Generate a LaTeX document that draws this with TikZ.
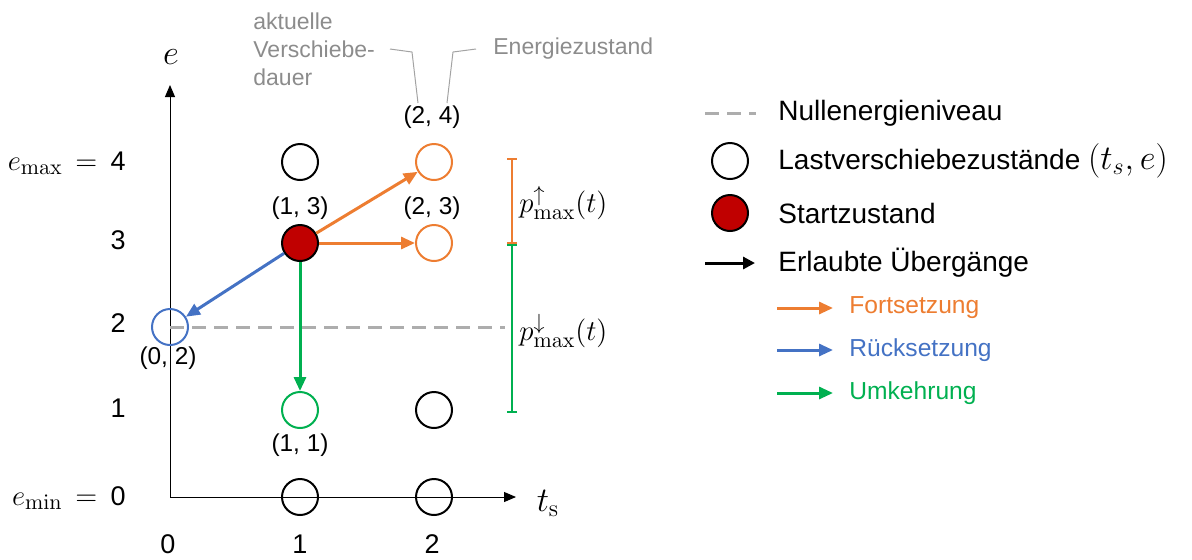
\documentclass[tikz,border=0pt]{standalone}
\usepackage[no-math]{fontspec}
\setmainfont{Liberation Sans}
\usetikzlibrary{arrows.meta}
\definecolor{cOr}{HTML}{ED7D31}
\definecolor{cBl}{HTML}{4472C4}
\definecolor{cGr}{HTML}{00B050}
\definecolor{cRd}{HTML}{C00000}
\definecolor{cDash}{HTML}{ADADAD}
\definecolor{cGtxt}{HTML}{8C8C8C}
\newcommand\fLeg{\fontsize{14}{17}\selectfont}
\newcommand\fCo{\fontsize{12.2}{14}\selectfont}
\newcommand\fGr{\fontsize{11.5}{14}\selectfont}
\newcommand\fSm{\fontsize{12.3}{15}\selectfont}
\newcommand\fAx{\fontsize{13.5}{16}\selectfont}
\newcommand\fMa{\fontsize{16.5}{19}\selectfont}
\newcommand\fMl{\fontsize{15.8}{19}\selectfont}
\newcommand\fMp{\fontsize{15.3}{18}\selectfont}
\begin{document}
\begin{tikzpicture}[x=0.5pt,y=-0.5pt,
  st/.style={circle, draw, line width=1pt, minimum size=18pt, inner sep=0pt},
  ar/.style={line width=1.5pt, -{Triangle[length=7pt,width=6pt]}},
  axis/.style={line width=0.5pt, -{Triangle[length=6pt,width=5pt]}},
  nulldash/.style={cDash, line width=1.5pt, dash pattern=on 7pt off 4pt},
  lead/.style={cGtxt!80, line width=0.5pt},
  bar/.style={line width=1pt, {Bar[width=5pt]}-{Bar[width=5pt]}},
  lbl/.style={inner sep=1pt}
]
\useasboundingbox (0,0) rectangle (1192,559);

% axes
\coordinate (O) at (170,497);
\coordinate (Ytop) at (170,85);
\coordinate (Xend) at (516,497);
\draw[axis] (O) -- (Ytop);
\draw[axis] (O) -- (Xend);
\node[font=\fMa] (elab) at (171,57) {$e$};
\node[font=\fMa] (tlab) at (548,503) {$t_{\mathrm{s}}$};

% y labels
\node[anchor=east, font=\fMl, lbl] (y4) at (128,163) {$e_{\max}\,= {}$\,\fAx 4};
\node[anchor=east, font=\fAx, lbl] (y3) at (128,240) {3};
\node[anchor=east, font=\fAx, lbl] (y2) at (128,323) {2};
\node[anchor=east, font=\fAx, lbl] (y1) at (128,408) {1};
\node[anchor=east, font=\fMl, lbl] (y0) at (128,498) {$e_{\min}\,= {}$\,\fAx 0};
% x labels
\node[font=\fAx] (x0) at (168,544) {0};
\node[font=\fAx] (x1) at (300,544) {1};
\node[font=\fAx] (x2) at (432,544) {2};

% null energy line
\coordinate (nA) at (170,327);
\coordinate (nB) at (505,327);
\draw[nulldash] (nA) -- (nB);

% states
\node[st] (s14) at (300,162) {};
\node[st, cOr] (s24) at (434,162) {};
\node[st, fill=cRd] (s13) at (300,243) {};
\node[st, cOr] (s23) at (434,243) {};
\node[st, cBl] (s02) at (170,327) {};
\node[st, cGr] (s11) at (300,410) {};
\node[st] (s21) at (434,410) {};
\node[st] (s10) at (300,497) {};
\node[st] (s20) at (434,497) {};

% transitions
\draw[ar, cOr] (s13) -- (s24);
\draw[ar, cOr] (s13) -- (s23);
\draw[ar, cBl] (s13) -- (s02);
\draw[ar, cGr] (s13) -- (s11);

% coordinate labels
\node[font=\fCo] (c13) at (300,208) {(1, 3)};
\node[font=\fCo] (c23) at (432,208) {(2, 3)};
\node[font=\fCo] (c24) at (432,117) {(2, 4)};
\node[font=\fCo] (c02) at (168,358) {(0, 2)};
\node[font=\fCo] (c11) at (300,445) {(1, 1)};

% gray annotations
\node[anchor=west, align=left, text=cGtxt, font=\fGr, inner sep=0pt] (gdur) at (253,49) {aktuelle\\Verschiebe-\\dauer};
\node[anchor=west, text=cGtxt, font=\fGr, inner sep=0pt] (gen) at (493,49) {Energiezustand};
\coordinate (l1a) at (390,49);
\coordinate (l1b) at (412,52);
\coordinate (l1c) at (418,103);
\coordinate (l2a) at (476,49);
\coordinate (l2b) at (453,52);
\coordinate (l2c) at (447,103);
\draw[lead] (l1a) -- (l1b) -- (l1c);
\draw[lead] (l2a) -- (l2b) -- (l2c);

% range bars
\coordinate (bTop) at (512,158);
\coordinate (bMid) at (512,244);
\coordinate (bBot) at (512,413);
\draw[bar, cOr] (bTop) -- (bMid);
\draw[bar, cGr] (bMid) -- (bBot);
\node[anchor=west, font=\fMp, inner sep=0pt] (pup) at (519,203) {$p^{\uparrow}_{\max}(t)$};
\node[anchor=west, font=\fMp, inner sep=0pt] (pdn) at (519,331) {$p^{\downarrow}_{\max}(t)$};

% legend
\coordinate (lgA) at (705,113);
\coordinate (lgB) at (756,113);
\draw[nulldash] (lgA) -- (lgB);
\node[anchor=west, font=\fLeg, inner sep=0pt] (t1) at (778,113) {Nullenergieniveau};
\node[st] (lgc) at (730,161) {};
\node[anchor=west, font=\fLeg, inner sep=0pt] (t2) at (778,161) {Lastverschiebezustände \fMa$(t_s, e)$};
\node[st, fill=cRd] (lgr) at (730,213) {};
\node[anchor=west, font=\fLeg, inner sep=0pt] (t3) at (778,213) {Startzustand};
\coordinate (lkA) at (705,263);
\coordinate (lkB) at (755,263);
\draw[line width=1.5pt, -{Triangle[length=6pt,width=6pt]}] (lkA) -- (lkB);
\node[anchor=west, font=\fLeg, inner sep=0pt] (t4) at (778,263) {Erlaubte Übergänge};
\coordinate (loA) at (777,308);
\coordinate (loB) at (833,308);
\draw[ar, cOr] (loA) -- (loB);
\node[anchor=west, font=\fSm, text=cOr, inner sep=0pt] (t5) at (849,308) {Fortsetzung};
\coordinate (lbA) at (777,350);
\coordinate (lbB) at (833,350);
\draw[ar, cBl] (lbA) -- (lbB);
\node[anchor=west, font=\fSm, text=cBl, inner sep=0pt] (t6) at (849,350) {Rücksetzung};
\coordinate (lgrA) at (777,393);
\coordinate (lgrB) at (833,393);
\draw[ar, cGr] (lgrA) -- (lgrB);
\node[anchor=west, font=\fSm, text=cGr, inner sep=0pt] (t7) at (849,393) {Umkehrung};
\end{tikzpicture}
\end{document}
